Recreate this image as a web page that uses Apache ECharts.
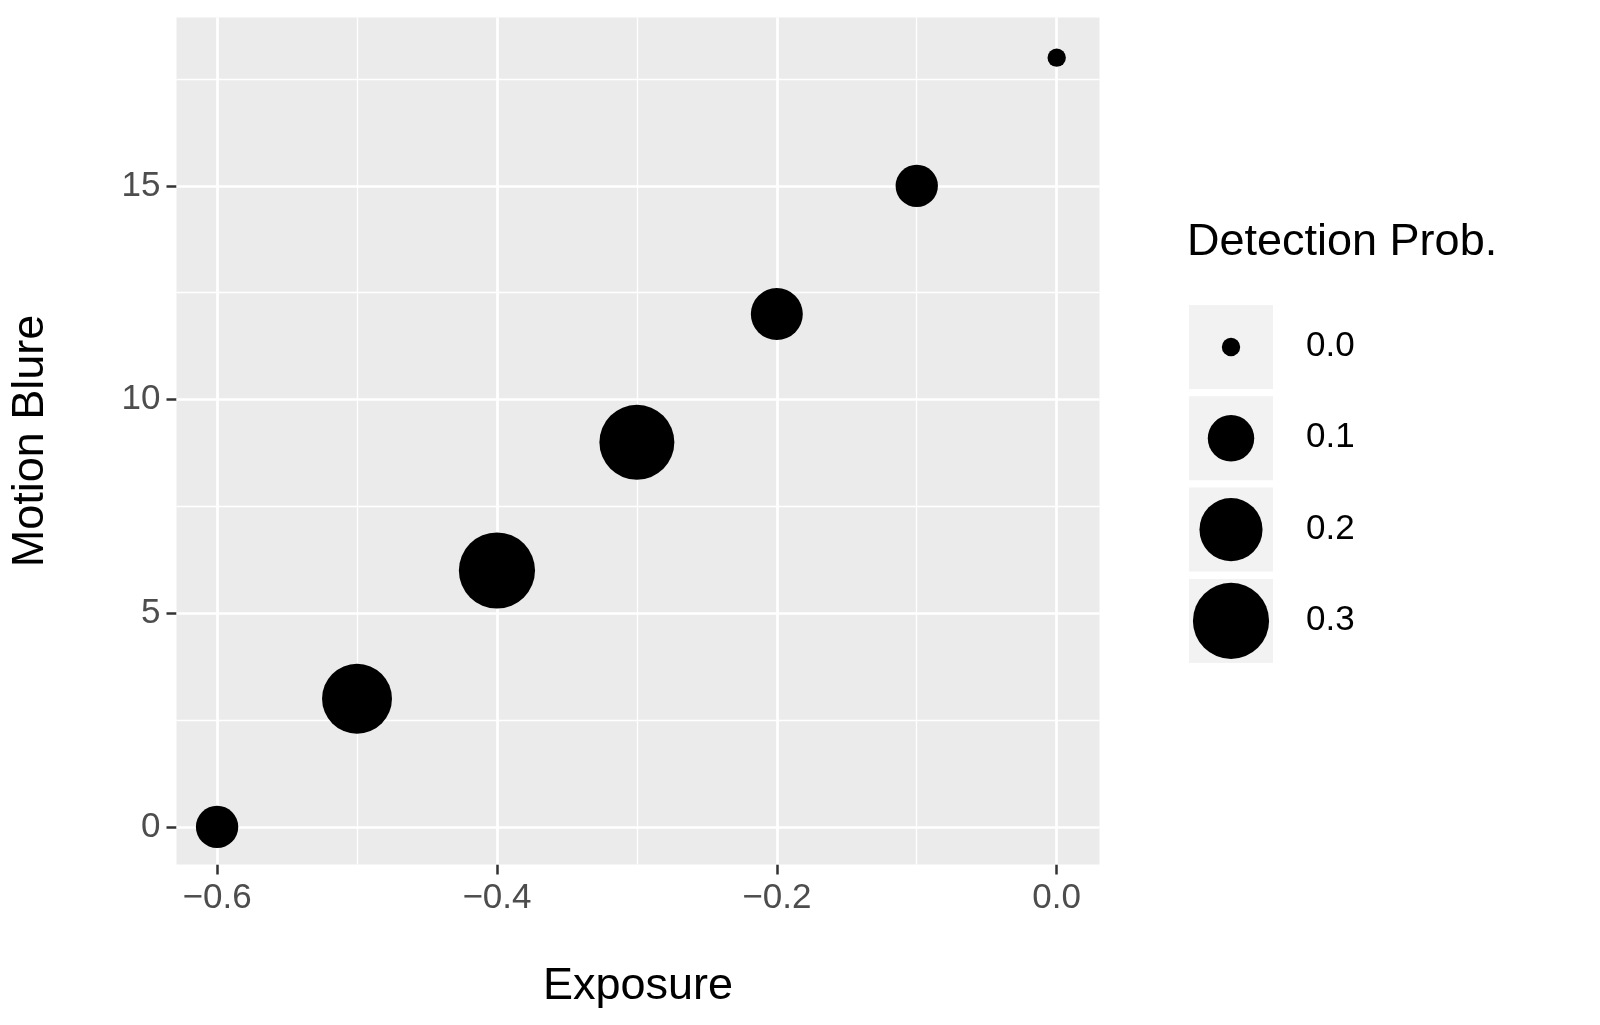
<!DOCTYPE html>
<html><head><meta charset="utf-8">
<script src="https://cdn.jsdelivr.net/npm/echarts@6/dist/echarts.min.js"></script>
<style>html,body{margin:0;background:#fff}#main{width:1600px;height:1025px}</style>
</head><body><div id="main"></div>
<script>
var chart = echarts.init(document.getElementById('main'));
var exposure = [-0.6, -0.5, -0.4, -0.3, -0.2, -0.1, 0.0];
var blur = [0, 3, 6, 9, 12, 15, 18];
var prob = [0.08, 0.25, 0.3, 0.29, 0.13, 0.08, 0.0];
var xBreaks = [-0.6, -0.4, -0.2, 0.0];
var xMinor = [-0.5, -0.3, -0.1];
var yBreaks = [0, 5, 10, 15];
var yMinor = [2.5, 7.5, 12.5, 17.5];
var legendValues = [0.0, 0.1, 0.2, 0.3];

function sizeOf(p) { return 1.02 * Math.sqrt(324 + p * 17500); }
var font = 'Liberation Sans, Arial, sans-serif';

var pts = exposure.map(function (x, i) { return [x, blur[i], prob[i]]; });
var grid = [];
xMinor.forEach(function (v) { grid.push({ xAxis: v, lineStyle: { width: 1.3 } }); });
yMinor.forEach(function (v) { grid.push({ yAxis: v, lineStyle: { width: 1.3 } }); });
xBreaks.forEach(function (v) { grid.push({ xAxis: v, lineStyle: { width: 2.7 } }); });
yBreaks.forEach(function (v) { grid.push({ yAxis: v, lineStyle: { width: 2.7 } }); });

var graphics = [{ type: 'text', left: 1187, top: 220,
  style: { text: 'Detection Prob.', font: '45px ' + font, fill: '#000' } }];
legendValues.forEach(function (v, i) {
  var top = 305 + i * 91.3;
  graphics.push({ type: 'rect', shape: { x: 1189, y: top, width: 84, height: 84 }, style: { fill: '#F2F2F2' } });
  graphics.push({ type: 'circle', shape: { cx: 1231, cy: top + 42, r: sizeOf(v) / 2 }, style: { fill: '#000' } });
  graphics.push({ type: 'text', x: 1306, y: top + 24,
    style: { text: v.toFixed(1), font: '35px ' + font, fill: '#000' } });
});

var option = {
  animation: false,
  grid: { left: 176.5, top: 17.5, width: 923, height: 847, show: true, backgroundColor: '#EBEBEB', borderWidth: 0 },
  xAxis: {
    type: 'value', min: -0.629, max: 0.0306,
    name: 'Exposure', nameLocation: 'middle', nameGap: 100,
    nameTextStyle: { fontSize: 45, fontFamily: font, color: '#000' },
    axisLine: { show: false, onZero: false }, splitLine: { show: false },
    axisTick: { show: true, length: 10, lineStyle: { color: '#333', width: 2.5 }, customValues: xBreaks },
    axisLabel: { fontSize: 35, fontFamily: font, color: '#4D4D4D', margin: 16, customValues: xBreaks,
      formatter: function (v) { return (v < 0 ? '\u2212' : '') + Math.abs(v).toFixed(1); } }
  },
  yAxis: {
    type: 'value', min: -0.88, max: 18.94,
    name: 'Motion Blure', nameLocation: 'middle', nameGap: 123, nameRotate: 90,
    nameTextStyle: { fontSize: 45, fontFamily: font, color: '#000' },
    axisLine: { show: false, onZero: false }, splitLine: { show: false },
    axisTick: { show: true, length: 10, lineStyle: { color: '#333', width: 2.5 }, customValues: yBreaks },
    axisLabel: { fontSize: 35, fontFamily: font, color: '#4D4D4D', margin: 16, customValues: yBreaks }
  },
  series: [
    { type: 'scatter', data: [], z: 1,
      markLine: { silent: true, symbol: 'none', label: { show: false },
        lineStyle: { color: '#fff', type: 'solid' }, data: grid } },
    { type: 'scatter', data: pts, zlevel: 1,
      symbolSize: function (d) { return sizeOf(d[2]); },
      itemStyle: { color: '#000', opacity: 1 } }
  ],
  graphic: graphics
};
chart.setOption(option);
</script></body></html>
